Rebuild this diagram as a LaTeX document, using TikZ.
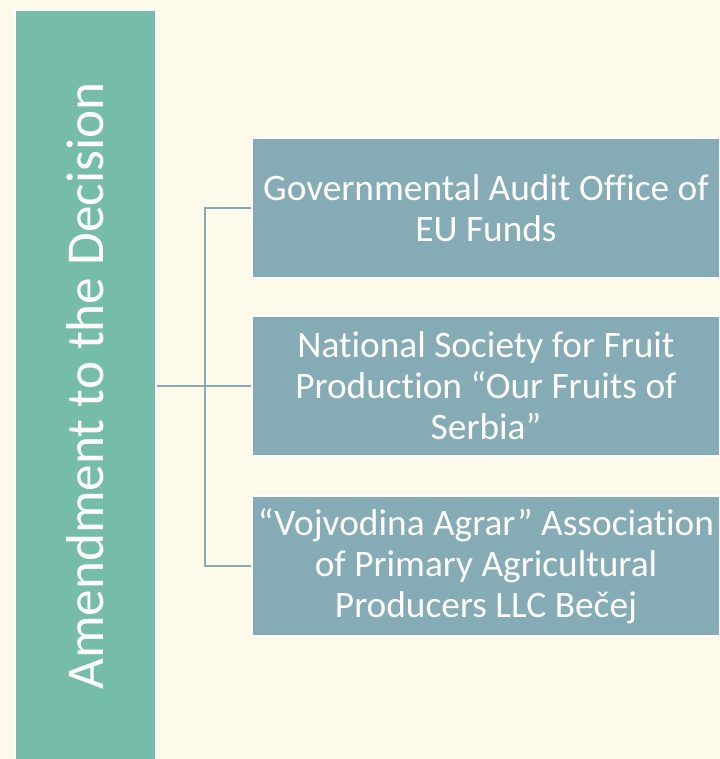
\documentclass[tikz,border=0pt]{standalone}
\usepackage{fontspec}
\setmainfont{Carlito}[Ligatures=NoCommon]
\usetikzlibrary{positioning}
\definecolor{cream}{HTML}{FDFAEA}
\definecolor{teal}{HTML}{76BDA9}
\definecolor{slate}{HTML}{85ACB6}
\tikzset{
  mainbox/.style={draw=white, line width=2bp, fill=teal, text=white,
    minimum width=752bp, minimum height=141bp, inner sep=0pt,
    font=\fontsize{53.5}{60}\selectfont},
  subbox/.style={draw=white, line width=2bp, fill=slate, text=white,
    minimum width=468bp, minimum height=140bp, inner sep=0pt,
    align=center, font=\fontsize{37.5}{41}\selectfont},
  link/.style={draw=slate, line width=2.5bp},
}
\begin{document}
\begin{tikzpicture}[x=1bp, y=-1bp]

\fill[cream] (0,0) rectangle (720,759);
\useasboundingbox (0,0) rectangle (720,759);
\clip (0,0) rectangle (720,759);

\node[mainbox, rotate=90] (amend) at (85.5,386) {Amendment to the Decision};

\node[subbox] (audit) at (486,208) {Governmental Audit Office of\\EU Funds};
\node[subbox] (fruit) at (486,386) {National Society for Fruit\\Production “Our Fruits of\\Serbia”};
\node[subbox] (vojv) at (486,566) {“Vojvodina Agrar” Association\\of Primary Agricultural\\Producers LLC Bečej};

\coordinate (trunk) at (205,386);

\draw[link] (amend.south) -- (fruit.west);
\draw[link] (audit.west) -| (trunk) |- (vojv.west);

\end{tikzpicture}
\end{document}
